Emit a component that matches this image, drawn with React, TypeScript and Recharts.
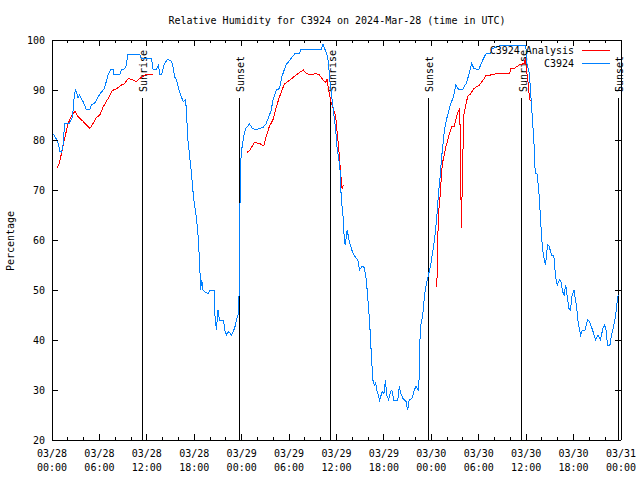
import React from "react";
import {
  LineChart,
  Line,
  XAxis,
  YAxis,
  ReferenceLine,
  Legend,
  Customized,
} from "recharts";

const FONT = "'DejaVu Sans Mono', 'Liberation Mono', monospace";

// hours since 03/28 00:00 UTC
const obsHours = [
  0.2, 0.5, 0.8, 1.0, 1.2, 1.35, 1.5, 1.55, 2.2, 2.6, 2.75, 2.95, 3.1, 3.3, 3.5,
  3.8, 4.0, 4.3, 4.8, 5.0, 5.4, 5.8, 6.2, 6.6, 6.8, 7.1, 7.45, 7.75, 7.8, 8.6,
  8.8, 9.2, 9.4, 9.6, 11.1, 11.3, 12.6, 12.8, 13.2, 13.5, 13.6, 13.9, 14.15,
  14.6, 15.1, 15.3, 15.5, 15.75, 16.2, 16.6, 16.9, 17.0, 17.2, 17.6, 17.9, 18.3,
  18.5, 18.7, 18.8, 18.95, 19.1, 19.4, 19.75, 20.0, 20.5, 20.6, 20.8, 21.0, 21.2,
  21.7, 21.85, 22.1, 22.35, 22.7, 23.1, 23.45, 23.6, 23.72, 23.78, 23.85, 24.0,
  24.25, 24.5, 25.0, 25.35, 25.85, 26.7, 27.1, 27.45, 27.75, 27.95, 28.4, 28.8,
  29.1, 29.6, 30.1, 30.7, 31.3, 31.5, 34.05, 34.3, 34.5, 34.8, 35.0, 35.1, 35.4,
  35.6, 35.9, 36.05, 36.3, 36.5, 36.6, 36.8, 36.9, 37.0, 37.1, 37.35, 37.55, 37.8,
  38.0, 38.3, 38.7, 38.9, 39.25, 39.5, 39.75, 39.95, 40.2, 40.4, 40.6, 40.8,
  40.95, 41.1, 41.45, 41.8, 42.0, 42.2, 42.35, 42.6, 42.8, 43.0, 43.25, 43.75,
  43.95, 44.1, 44.4, 44.8, 45.0, 45.2, 45.55, 45.85, 46.05, 46.35, 46.5, 46.55,
  46.7, 46.9, 47.1, 47.3, 47.6, 47.95, 48.4, 48.7, 48.9, 49.1, 49.35, 49.65,
  49.9, 50.35, 50.8, 51.1, 51.5, 51.95, 52.4, 52.8, 53.1, 53.4, 54.0, 54.5, 54.9,
  55.5, 55.7, 57.0, 59.9, 60.0, 60.1, 60.4, 60.6, 60.8, 61.0, 61.1, 61.2, 61.4,
  61.65, 61.85, 61.97, 62.1, 62.3, 62.45, 62.7, 62.9, 63.2, 63.5, 63.75, 63.95,
  64.2, 64.4, 64.6, 64.8, 65.0, 65.2, 65.4, 65.6, 65.8, 66.05, 66.35, 66.6, 66.9,
  67.1, 67.45, 67.75, 68.0, 68.4, 68.8, 69.1, 69.4, 69.7, 69.95, 70.1, 70.3,
  70.6, 70.8, 71.05, 71.3, 71.6, 71.75,
];
const obsValues = [
  81.2, 80.3, 79.3, 77.7, 77.5, 78.5, 80.5, 83.2, 83.3, 84.7, 87.7, 90, 89.5,
  88.4, 89, 88, 87.5, 86.2, 86.2, 87, 87.4, 88.5, 89.5, 90.2, 91.3, 93, 94.1,
  94.1, 93.2, 93.2, 94, 94.3, 95, 97.2, 97.2, 96.3, 96.3, 94.1, 94.1, 95, 93.2,
  93.2, 95, 96.1, 95.8, 94.8, 92.7, 92, 89.3, 87.7, 88.1, 86, 80, 74, 68.7, 64,
  60.7, 54.7, 50, 52, 50, 49.5, 49.3, 50, 50, 45.3, 42, 46, 44, 44, 42, 41, 41.7,
  41, 42.3, 44.7, 45.3, 52, 66, 75, 78, 80.7, 82.3, 83.2, 82.3, 82.1, 82.5, 83.3,
  84.7, 86, 88, 90, 90.3, 92.7, 95, 96, 97.2, 97.3, 98.1, 98.1, 99.2, 98.3, 97,
  95.3, 92.7, 88.7, 86, 82, 78.7, 76, 73.3, 68, 65.7, 62, 60.3, 59, 62, 60.3,
  58.7, 57.7, 56.8, 56, 54, 54.8, 54.5, 52.3, 48.7, 43.3, 37.3, 32, 31, 31.5, 30,
  28, 29.7, 29.2, 32, 29, 28, 29.5, 30, 28, 28, 30.7, 29.5, 28.3, 27.7, 26, 28,
  28.3, 30, 30.7, 30, 33.3, 39.7, 43.3, 44.7, 48.3, 50.7, 52.7, 55.3, 60, 64.7,
  69.3, 72.5, 77.3, 82, 84, 86.7, 88.7, 91, 90, 90.1, 91.3, 93.3, 95.3, 94.3,
  94.1, 96, 97.2, 97.3, 98.3, 99, 99, 98, 95.3, 93.3, 88.7, 84, 79, 74.7, 73.3,
  73.2, 68.7, 63.3, 60.3, 58, 56, 55, 59, 58.8, 57, 56.8, 52.3, 51, 52, 51.7,
  49.7, 49, 51, 48.7, 46.3, 46, 48.7, 50, 47, 43.3, 41, 42, 42, 44, 43.7, 42, 40,
  41, 40, 42.3, 43, 42, 39, 39, 41, 42.7, 44.7, 48.7, 49,
];

// null entries break the analysis line between runs
const anaHours = [
  0.6, 0.9, 1.2, 1.65, 2.05, 2.5, 2.9, 3.3, 3.95, 4.8, 5.2, 5.6, 6.05, 6.5, 7.1,
  7.65, 8.2, 8.8, 9.2, 9.65, 10.05, 10.7, 11.1, 11.75, 12.15, 12.4, 12.8, 18,
  24.7, 25.1, 25.6, 26.3, 26.8, 27.1, 27.5, 27.95, 28.4, 28.8, 29.4, 30.1, 30.9,
  31.5, 31.8, 32.2, 32.8, 33.4, 33.85, 34.3, 34.6, 34.8, 35.0, 35.3, 35.6, 35.9,
  36.05, 36.3, 36.5, 36.7, 36.9, 42, 48.6, 48.7, 48.8, 48.95, 49.1, 49.3, 49.4,
  49.85, 50.3, 50.6, 50.9, 51.2, 51.4, 51.6, 51.7, 51.8, 51.9, 52.1, 52.4, 52.6,
  53.0, 53.4, 54.1, 54.7, 54.9, 55.5, 56.4, 57.9, 58.05, 58.5, 59.1, 59.75, 59.9,
  60.0, 60.3, 60.4, 60.5, 60.7,
];
const anaValues = [
  74.3, 75.3, 77.3, 80.7, 83.3, 85, 85.7, 84.7, 83.7, 82.3, 83.3, 84.5, 85, 86.7,
  88.3, 89.9, 90.3, 91, 91.3, 92.3, 92.1, 91.7, 92.3, 93, 93.2, 93, 93.2, null,
  77.5, 78.1, 79.5, 79.3, 78.8, 80.7, 82.7, 84, 86.7, 88.7, 91.2, 92, 93, 93.7,
  94, 93.3, 93, 93.3, 93, 92, 91.5, 92.1, 90, 87.7, 86.3, 84.7, 82, 78, 74, 70.3,
  71, null, 51.7, 50.7, 60, 66, 68.7, 73.3, 75.3, 78.7, 81.3, 82.7, 82.7, 84.7,
  85.7, 86.3, 75, 62.4, 70, 85, 87.3, 88.7, 89.3, 90.3, 91, 92.3, 93, 93, 93.3,
  93.3, 94.3, 94.3, 95, 95.3, 96.3, 94.7, 90.7, 88.7, 88, 88,
];

const xTicks = [
  0, 2, 4, 6, 8, 10, 12, 14, 16, 18, 20, 22, 24, 26, 28, 30, 32, 34, 36, 38, 40,
  42, 44, 46, 48, 50, 52, 54, 56, 58, 60, 62, 64, 66, 68, 70, 72,
];
const tickDates = [
  "03/28", "03/28", "03/28", "03/28", "03/29", "03/29", "03/29", "03/29",
  "03/30", "03/30", "03/30", "03/30", "03/31",
];
const tickTimes = [
  "00:00", "06:00", "12:00", "18:00", "00:00", "06:00", "12:00", "18:00",
  "00:00", "06:00", "12:00", "18:00", "00:00",
];
const yTicks = [20, 30, 40, 50, 60, 70, 80, 90, 100];

const sunHours = [11.43, 23.72, 35.3, 47.6, 59.43, 71.68];
const sunNames = ["Sunrise", "Sunset", "Sunrise", "Sunset", "Sunrise", "Sunset"];
const sunLineTop = 88.4;

const obsData = obsHours.map((h, i) => ({ hour: h, rh: obsValues[i] }));
const anaData = anaHours.map((h, i) => ({ hour: h, rh: anaValues[i] }));

const txt = { fontFamily: FONT, fontSize: 10, fill: "#000" };

function BottomTick({ x, y, payload }: any) {
  const v = payload.value;
  const major = v % 6 === 0;
  return (
    <g>
      <line x1={x} x2={x} y1={y} y2={y - (major ? 6 : 3)} stroke="#000" shapeRendering="crispEdges" />
      {major && (
        <>
          <text x={x} y={y + 17} textAnchor="middle" {...txt}>{tickDates[v / 6]}</text>
          <text x={x} y={y + 31} textAnchor="middle" {...txt}>{tickTimes[v / 6]}</text>
        </>
      )}
    </g>
  );
}

function TopTick({ x, y, payload }: any) {
  const major = payload.value % 6 === 0;
  return <line x1={x} x2={x} y1={y} y2={y + (major ? 6 : 3)} stroke="#000" shapeRendering="crispEdges" />;
}

function LeftTick({ x, y, payload }: any) {
  return (
    <g>
      <line x1={x} x2={x + 6} y1={y} y2={y} stroke="#000" shapeRendering="crispEdges" />
      <text x={x - 7} y={y + 4} textAnchor="end" {...txt}>{payload.value}</text>
    </g>
  );
}

function RightTick({ x, y }: any) {
  return <line x1={x} x2={x - 6} y1={y} y2={y} stroke="#000" shapeRendering="crispEdges" />;
}

function SunMark({ x1, y1, y2, name }: any) {
  const top = Math.min(y1, y2);
  const bottom = Math.max(y1, y2);
  return (
    <g>
      <line x1={x1} x2={x1} y1={top} y2={bottom} stroke="#000" shapeRendering="crispEdges" />
      <text transform={`translate(${x1 + 5},${top - 6}) rotate(-90)`} textAnchor="start" {...txt}>
        {name}
      </text>
    </g>
  );
}

function Annotations() {
  return (
    <g>
      <text x={337} y={24} textAnchor="middle" {...txt}>
        Relative Humidity for C3924 on 2024-Mar-28 (time in UTC)
      </text>
      <text transform="translate(14,241) rotate(-90)" textAnchor="middle" {...txt}>
        Percentage
      </text>
    </g>
  );
}

function LegendBox() {
  return (
    <svg width={150} height={30} style={{ display: "block", overflow: "visible" }}>
      <text x={104} y={12} textAnchor="end" {...txt}>C3924 Analysis</text>
      <line x1={112} x2={140} y1={8} y2={8} stroke="#ff0000" shapeRendering="crispEdges" />
      <text x={104} y={25} textAnchor="end" {...txt}>C3924</text>
      <line x1={112} x2={140} y1={21} y2={21} stroke="#0080ff" shapeRendering="crispEdges" />
    </svg>
  );
}

export default function App() {
  return (
    <div style={{ position: "absolute", left: 0, top: 0, width: 640, height: 480, background: "#fff" }}>
      <LineChart width={640} height={480} margin={{ top: 39, right: 18, left: 0, bottom: 1 }}>
        <XAxis
          dataKey="hour"
          type="number"
          domain={[0, 72]}
          ticks={xTicks}
          interval={0}
          height={39}
          tickSize={0}
          tickMargin={0}
          tick={BottomTick}
          axisLine={{ stroke: "#000", shapeRendering: "crispEdges" }}
          tickLine={false}
          allowDataOverflow
        />
        <XAxis
          xAxisId="top"
          orientation="top"
          dataKey="hour"
          type="number"
          domain={[0, 72]}
          ticks={xTicks}
          interval={0}
          height={1}
          tickSize={0}
          tickMargin={0}
          tick={TopTick}
          axisLine={{ stroke: "#000", shapeRendering: "crispEdges" }}
          tickLine={false}
          allowDataOverflow
        />
        <YAxis
          type="number"
          domain={[20, 100]}
          ticks={yTicks}
          interval={0}
          width={52}
          tickSize={0}
          tickMargin={0}
          tick={LeftTick}
          axisLine={{ stroke: "#000", shapeRendering: "crispEdges" }}
          tickLine={false}
          allowDataOverflow
        />
        <YAxis
          yAxisId="right"
          orientation="right"
          type="number"
          domain={[20, 100]}
          ticks={yTicks}
          interval={0}
          width={1}
          tickSize={0}
          tickMargin={0}
          tick={RightTick}
          axisLine={{ stroke: "#000", shapeRendering: "crispEdges" }}
          tickLine={false}
          allowDataOverflow
        />
        {sunHours.map((h, i) => (
          <ReferenceLine
            key={i}
            segment={[{ x: h, y: 20 }, { x: h, y: sunLineTop }]}
            shape={(p: any) => <SunMark {...p} name={sunNames[i]} />}
          />
        ))}
        <Line
          data={anaData}
          dataKey="rh"
          name="C3924 Analysis"
          type="linear"
          stroke="#ff0000"
          strokeWidth={1}
          shapeRendering="crispEdges"
          dot={false}
          activeDot={false}
          connectNulls={false}
          isAnimationActive={false}
        />
        <Line
          data={obsData}
          dataKey="rh"
          name="C3924"
          type="linear"
          stroke="#0080ff"
          strokeWidth={1}
          shapeRendering="crispEdges"
          dot={false}
          activeDot={false}
          isAnimationActive={false}
        />
        <Legend
          layout="horizontal"
          verticalAlign="middle"
          align="center"
          wrapperStyle={{ position: "absolute", left: 470, top: 42, width: 150, height: 30 }}
          content={() => <LegendBox />}
        />
        <Customized component={Annotations} />
      </LineChart>
    </div>
  );
}
